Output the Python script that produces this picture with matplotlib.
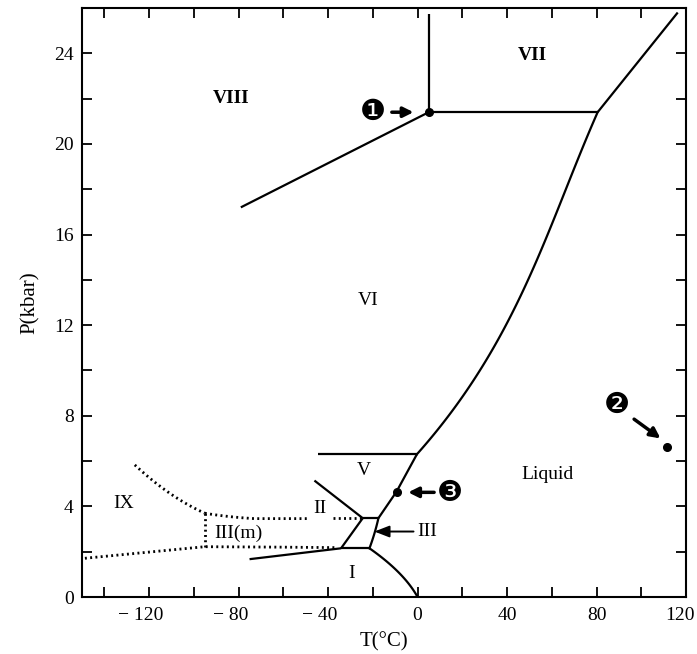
import matplotlib
matplotlib.use("Agg")
import matplotlib.pyplot as plt
from matplotlib.transforms import ScaledTranslation
import numpy as np

# ---------------- data (T in °C, P in kbar) ----------------
vii_viii_T = [5, 5]
vii_viii_P = [21.4, 25.75]

viii_vi_T = [-79, 5]
viii_vi_P = [17.2, 21.4]

vi_vii_T = [5, 80.5]
vi_vii_P = [21.4, 21.4]

vii_liq_T = [80.5, 116.3]
vii_liq_P = [21.4, 25.8]

vi_liq_T = [-0.3, 11.2, 29.0, 45.4, 58.7, 70.6, 80.5]
vi_liq_P = [6.3, 7.53, 10.18, 13.13, 16.07, 19.02, 21.4]

v_top_T = [-44.6, -0.3]
v_top_P = [6.3, 6.3]

v_liq_T = [-0.3, -9.4, -17.5]
v_liq_P = [6.3, 4.65, 3.48]

iii_v_T = [-24.5, -17.5]
iii_v_P = [3.48, 3.48]

ii_v_T = [-46.1, -24.5]
ii_v_P = [5.14, 3.48]

ii_iii_T = [-24.5, -34.2]
ii_iii_P = [3.48, 2.15]

i_iii_T = [-34.2, -21.5]
i_iii_P = [2.15, 2.15]

iii_liq_T = [-21.5, -19.0, -17.5]
iii_liq_P = [2.15, 2.9, 3.48]

i_liq_T = [-21.5, -11.2, -5.2, -0.7, 0]
i_liq_P = [2.15, 1.34, 0.75, 0.23, 0]

i_ii_T = [-75.1, -34.2]
i_ii_P = [1.67, 2.15]

# dotted (metastable) boundaries
dot_low_T = [-148.7, -95.1, -60, -37]
dot_low_P = [1.71, 2.22, 2.2, 2.18]

dot_vert_T = [-95.1, -95.1]
dot_vert_P = [2.22, 3.7]

dot_ix_T = [-126.4, -106.3, -95.1]
dot_ix_P = [5.83, 4.29, 3.7]

dot_up1_T = [-95.1, -85, -75, -49.2]
dot_up1_P = [3.7, 3.55, 3.48, 3.46]

dot_up2_T = [-38, -25.3]
dot_up2_P = [3.47, 3.47]

# special points
pt1 = (5, 21.4)
pt2 = (111.5, 6.64)
pt3 = (-9.4, 4.65)

# region labels
region_labels = ["VIII", "VII", "VI", "V", "II", "I", "IX", "III(m)", "Liquid"]
region_T = [-83.3, 51.3, -22.0, -23.8, -43.8, -29.7, -131.6, -80.3, 58.0]
region_P = [22.0, 23.9, 13.1, 5.6, 3.92, 1.05, 4.14, 2.82, 5.39]

x_ticks = list(range(-140, 121, 20))
x_labels = ["" if t % 40 else (f"\u2212 {abs(t)}" if t < 0 else f"{t}") for t in x_ticks]
y_ticks = list(range(0, 27, 2))
y_labels = ["" if t % 4 else f"{t}" for t in y_ticks]

# ---------------- plot ----------------
serif = ["Liberation Serif", "DejaVu Serif"]
plt.rcParams["font.family"] = serif

fig = plt.figure(figsize=(6.97, 6.54), dpi=100)
ax = fig.add_axes([82 / 697, 1 - 597 / 654, (686 - 82) / 697, (597 - 8) / 654])
ax.set_xlim(-150, 120)
ax.set_ylim(0, 26)


def fit_curve(T, P, deg=3, n=120):
    """Smooth T(P) through the read points, pinned at both ends."""
    T = np.asarray(T, float)
    P = np.asarray(P, float)
    c = np.polyfit(P, T, deg)
    pp = np.linspace(P[0], P[-1], n)
    tt = np.polyval(c, pp)
    e0 = T[0] - np.polyval(c, P[0])
    e1 = T[-1] - np.polyval(c, P[-1])
    w = (pp - P[0]) / (P[-1] - P[0])
    tt = tt + e0 * (1 - w) + e1 * w
    return tt, pp


lw = 1.6
solid = [
    (vii_viii_T, vii_viii_P), (viii_vi_T, viii_vi_P), (vi_vii_T, vi_vii_P),
    (vii_liq_T, vii_liq_P), (v_top_T, v_top_P), (iii_v_T, iii_v_P),
    (ii_v_T, ii_v_P), (ii_iii_T, ii_iii_P), (i_iii_T, i_iii_P),
    (i_ii_T, i_ii_P), (v_liq_T, v_liq_P),
]
for T, P in solid:
    ax.plot(T, P, color="black", lw=lw, solid_capstyle="butt")

tt, pp = fit_curve(vi_liq_T, vi_liq_P, deg=3)
ax.plot(tt, pp, color="black", lw=lw)
tt, pp = fit_curve(i_liq_T, i_liq_P, deg=2)
ax.plot(tt, pp, color="black", lw=lw)
tt, pp = fit_curve(iii_liq_T, iii_liq_P, deg=2)
ax.plot(tt, pp, color="black", lw=lw)

dotted = dict(color="black", lw=2.0, linestyle=(0, (0.7, 1.2)))
ax.plot(dot_low_T, dot_low_P, **dotted)
ax.plot(dot_vert_T, dot_vert_P, **dotted)
c = np.polyfit(dot_ix_T, dot_ix_P, 2)
tx = np.linspace(dot_ix_T[0], dot_ix_T[-1], 60)
ax.plot(tx, np.polyval(c, tx), **dotted)
c = np.polyfit(dot_up1_T, dot_up1_P, 2)
tx = np.linspace(dot_up1_T[0], dot_up1_T[-1], 60)
ax.plot(tx, np.clip(np.polyval(c, tx), 3.46, None), **dotted)
ax.plot(dot_up2_T, dot_up2_P, **dotted)

# points
for p in (pt1, pt2, pt3):
    ax.plot(p[0], p[1], "o", color="black", ms=5.5)

# region labels
for lab, t, p in zip(region_labels, region_T, region_P):
    weight = "bold" if lab in ("VIII", "VII") else "normal"
    ax.text(t, p, lab, ha="center", va="center", fontsize=14, fontweight=weight)

# III label with arrow
ax.text(4.4, 2.89, "III", ha="center", va="center", fontsize=14)
ax.annotate("", xy=(-19.3, 2.89), xytext=(-1.8, 2.89),
            arrowprops=dict(arrowstyle="-|>,head_length=0.9,head_width=0.35",
                            color="black", lw=1.4, shrinkA=0, shrinkB=0))

# numbered markers
num_font = ["DejaVu Sans"]
ax.text(-19.8, 21.4, "\u2776", ha="center", va="center", fontsize=21, family=num_font)
ax.annotate("", xy=(-1.8, 21.4), xytext=(-11.5, 21.4),
            arrowprops=dict(arrowstyle="-|>,head_length=0.6,head_width=0.3",
                            color="black", lw=2.5, shrinkA=0, shrinkB=0))

ax.text(89.2, 8.5, "\u2777", ha="center", va="center", fontsize=21, family=num_font)
ax.annotate("", xy=(108.6, 7.0), xytext=(96.8, 7.85),
            arrowprops=dict(arrowstyle="-|>,head_length=0.6,head_width=0.3",
                            color="black", lw=2.5, shrinkA=0, shrinkB=0))

ax.text(14.6, 4.58, "\u2778", ha="center", va="center", fontsize=21, family=num_font)
ax.annotate("", xy=(-4.2, 4.62), xytext=(7.4, 4.62),
            arrowprops=dict(arrowstyle="-|>,head_length=0.6,head_width=0.3",
                            color="black", lw=2.5, shrinkA=0, shrinkB=0))

# axes styling
ax.set_xticks(x_ticks)
ax.set_xticklabels(x_labels)
ax.set_yticks(y_ticks)
ax.set_yticklabels(y_labels)
ax.tick_params(direction="in", length=7, width=1.3, top=True, right=True,
               labelsize=14)
ax.tick_params(axis="x", pad=7)
ax.tick_params(axis="y", pad=6)
for lbl, t in zip(ax.get_xticklabels(), x_ticks):
    if t < 0:
        lbl.set_transform(lbl.get_transform() +
                          ScaledTranslation(-8 / 100, 0, fig.dpi_scale_trans))
    elif t == 120:
        lbl.set_transform(lbl.get_transform() +
                          ScaledTranslation(-6 / 100, 0, fig.dpi_scale_trans))
for s in ax.spines.values():
    s.set_linewidth(1.5)

ax.set_xlabel("T(°C)", fontsize=15, labelpad=6)
ax.set_ylabel("P(kbar)", fontsize=15, labelpad=10)

fig.savefig("out.png", dpi=100)
